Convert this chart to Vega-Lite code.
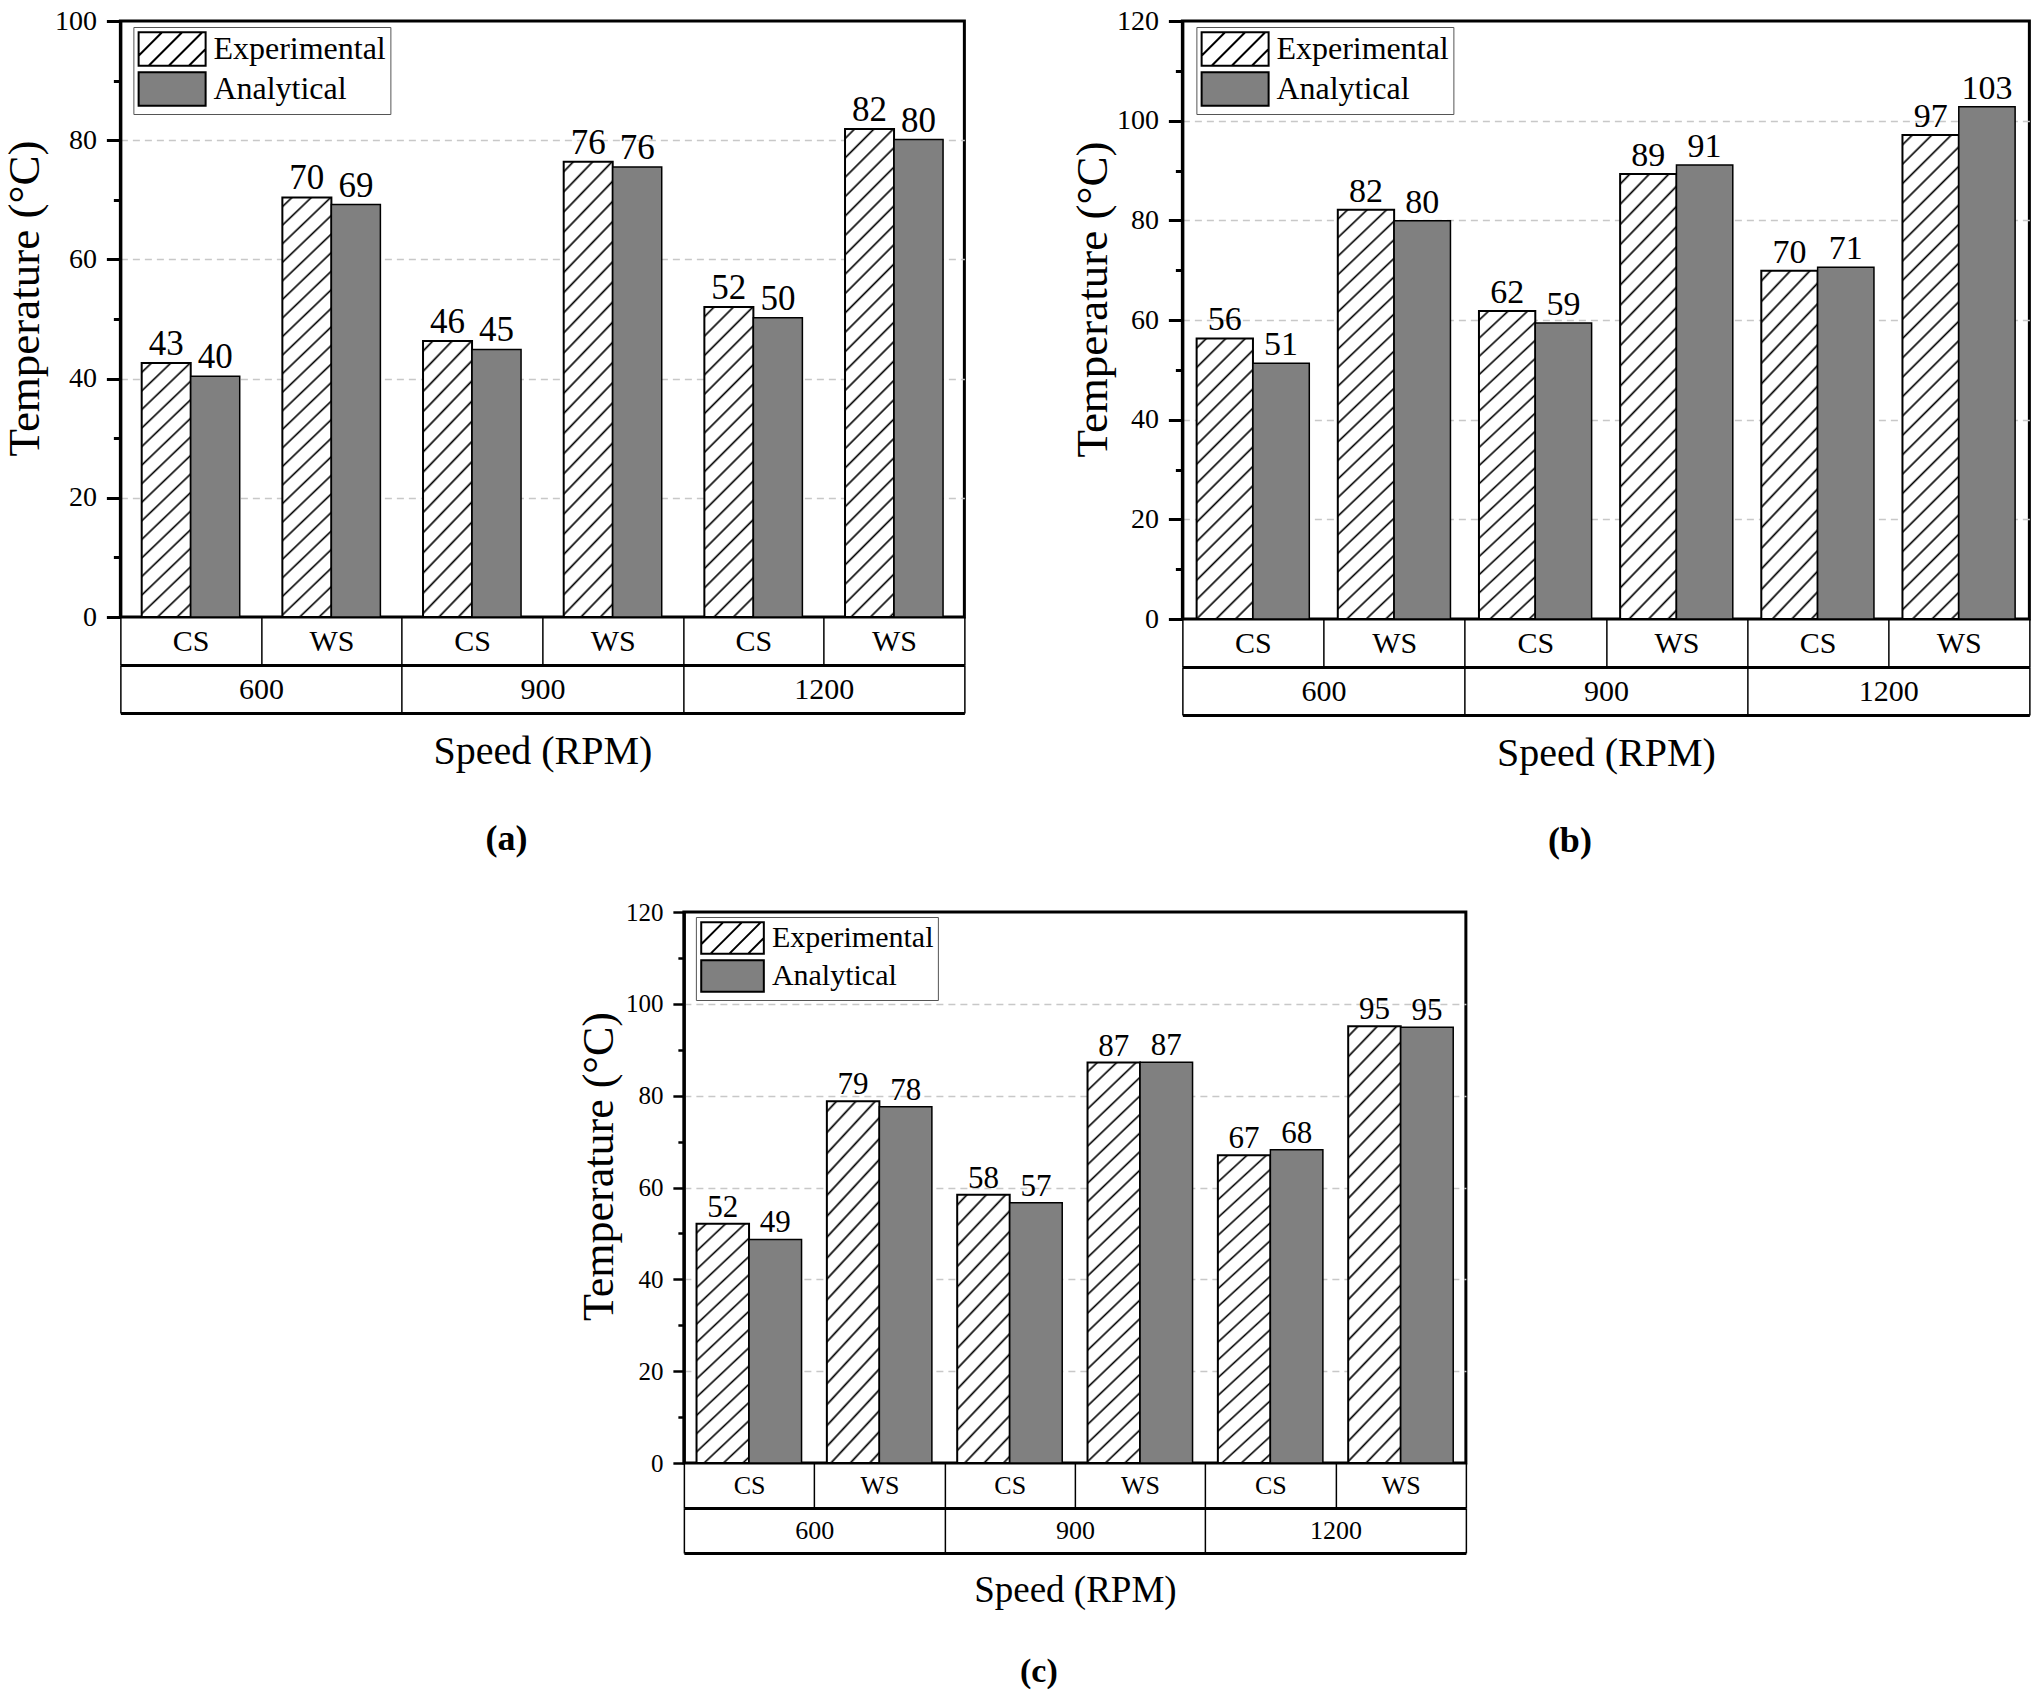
{
"$schema": "https://vega.github.io/schema/vega-lite/v6.json",
"padding": {"left": 0, "top": 5, "right": 0, "bottom": 0},
"background": "white",
"config": {
 "font": "Liberation Serif",
 "view": {"stroke": "black", "strokeWidth": 3},
 "axis": {"labelColor": "black", "titleColor": "black", "tickColor": "black", "domainColor": "black", "titleFontWeight": "normal", "labelFont": "Liberation Serif", "titleFont": "Liberation Serif"},
 "legend": {"labelFont": "Liberation Serif", "labelColor": "black"},
 "title": {"font": "Liberation Serif", "color": "black"},
 "text": {"font": "Liberation Serif"}
},
"vconcat": [
 {
  "hconcat": [
   {
    "width": 844, "height": 596,
    "data": {"values": [
     {"Speed":"600","Cat":"600 CS","S":"Experimental","T":42.6},
     {"Speed":"600","Cat":"600 CS","S":"Analytical","T":40.4},
     {"Speed":"600","Cat":"600 WS","S":"Experimental","T":70.4},
     {"Speed":"600","Cat":"600 WS","S":"Analytical","T":69.2},
     {"Speed":"900","Cat":"900 CS","S":"Experimental","T":46.3},
     {"Speed":"900","Cat":"900 CS","S":"Analytical","T":44.9},
     {"Speed":"900","Cat":"900 WS","S":"Experimental","T":76.4},
     {"Speed":"900","Cat":"900 WS","S":"Analytical","T":75.5},
     {"Speed":"1200","Cat":"1200 CS","S":"Experimental","T":52.0},
     {"Speed":"1200","Cat":"1200 CS","S":"Analytical","T":50.2},
     {"Speed":"1200","Cat":"1200 WS","S":"Experimental","T":81.9},
     {"Speed":"1200","Cat":"1200 WS","S":"Analytical","T":80.1}
    ]},
    "title": {"text": "(a)", "orient": "bottom", "frame": "group", "anchor": "middle", "dx": -36, "offset": 50, "fontSize": 36, "fontWeight": "bold"},
    "layer": [
     {
      "encoding": {
       "x": {"field": "Cat", "type": "nominal", "scale": {"domain": ["600 CS","600 WS","900 CS","900 WS","1200 CS","1200 WS"], "paddingInner": 0, "paddingOuter": 0},
             "axis": {"orient": "bottom", "offset": 48, "title": null, "tickBand": "extent", "tickSize": -48, "tickWidth": 1.5, "domainWidth": 3, "labelExpr": "split(datum.label, ' ')[1]", "labelFontSize": 30, "labelPadding": 24, "labelBaseline": "middle", "labelAngle": 0, "grid": false}},
       "xOffset": {"field": "S", "type": "nominal", "scale": {"domain": ["Experimental","Analytical"], "paddingInner": 0, "paddingOuter": 0.435}},
       "y": {"field": "T", "type": "quantitative", "scale": {"domain": [0,100], "nice": false},
             "axis": {"orient": "left", "values": [0,20,40,60,80,100], "tickSize": 14, "tickWidth": 3, "domainWidth": 3, "labelFontSize": 28, "labelPadding": 10, "grid": true, "gridDash": [7,5], "gridColor": "#c8c8c8", "gridWidth": 1.5, "gridOpacity": {"condition": {"test": "datum.value === 0 || datum.value === 100", "value": 0}, "value": 1}, "title": "Temperature (°C)", "titleFontSize": 45, "titlePadding": 7, "titleY": 277}}
      },
      "layer": [
       {"transform": [{"filter": "datum.S === 'Experimental' && indexof(['600 CS','900 CS'], datum.Cat) >= 0"}], "mark": {"type": "bar", "stroke": "black", "strokeWidth": 2, "fill": {"gradient": "linear", "x1": 0, "y1": 0, "x2": 0.5229, "y2": 2.8278, "stops": [
{"offset":0.0095,"color":"#fff"},{"offset":0.0125,"color":"#000"},{"offset":0.0155,"color":"#fff"},
{"offset":0.0345,"color":"#fff"},{"offset":0.0375,"color":"#000"},{"offset":0.0405,"color":"#fff"},
{"offset":0.0595,"color":"#fff"},{"offset":0.0625,"color":"#000"},{"offset":0.0655,"color":"#fff"},
{"offset":0.0845,"color":"#fff"},{"offset":0.0875,"color":"#000"},{"offset":0.0905,"color":"#fff"},
{"offset":0.1095,"color":"#fff"},{"offset":0.1125,"color":"#000"},{"offset":0.1155,"color":"#fff"},
{"offset":0.1345,"color":"#fff"},{"offset":0.1375,"color":"#000"},{"offset":0.1405,"color":"#fff"},
{"offset":0.1595,"color":"#fff"},{"offset":0.1625,"color":"#000"},{"offset":0.1655,"color":"#fff"},
{"offset":0.1845,"color":"#fff"},{"offset":0.1875,"color":"#000"},{"offset":0.1905,"color":"#fff"},
{"offset":0.2095,"color":"#fff"},{"offset":0.2125,"color":"#000"},{"offset":0.2155,"color":"#fff"},
{"offset":0.2345,"color":"#fff"},{"offset":0.2375,"color":"#000"},{"offset":0.2405,"color":"#fff"},
{"offset":0.2595,"color":"#fff"},{"offset":0.2625,"color":"#000"},{"offset":0.2655,"color":"#fff"},
{"offset":0.2845,"color":"#fff"},{"offset":0.2875,"color":"#000"},{"offset":0.2905,"color":"#fff"},
{"offset":0.3095,"color":"#fff"},{"offset":0.3125,"color":"#000"},{"offset":0.3155,"color":"#fff"},
{"offset":0.3345,"color":"#fff"},{"offset":0.3375,"color":"#000"},{"offset":0.3405,"color":"#fff"},
{"offset":0.3595,"color":"#fff"},{"offset":0.3625,"color":"#000"},{"offset":0.3655,"color":"#fff"},
{"offset":0.3845,"color":"#fff"},{"offset":0.3875,"color":"#000"},{"offset":0.3905,"color":"#fff"},
{"offset":0.4095,"color":"#fff"},{"offset":0.4125,"color":"#000"},{"offset":0.4155,"color":"#fff"},
{"offset":0.4345,"color":"#fff"},{"offset":0.4375,"color":"#000"},{"offset":0.4405,"color":"#fff"}
]}}},
       {"transform": [{"filter": "datum.S === 'Experimental' && indexof(['1200 CS'], datum.Cat) >= 0"}], "mark": {"type": "bar", "stroke": "black", "strokeWidth": 2, "fill": {"gradient": "linear", "x1": 0, "y1": 0, "x2": 0.3855, "y2": 2.4391, "stops": [
{"offset":0.0095,"color":"#fff"},{"offset":0.0125,"color":"#000"},{"offset":0.0155,"color":"#fff"},
{"offset":0.0345,"color":"#fff"},{"offset":0.0375,"color":"#000"},{"offset":0.0405,"color":"#fff"},
{"offset":0.0595,"color":"#fff"},{"offset":0.0625,"color":"#000"},{"offset":0.0655,"color":"#fff"},
{"offset":0.0845,"color":"#fff"},{"offset":0.0875,"color":"#000"},{"offset":0.0905,"color":"#fff"},
{"offset":0.1095,"color":"#fff"},{"offset":0.1125,"color":"#000"},{"offset":0.1155,"color":"#fff"},
{"offset":0.1345,"color":"#fff"},{"offset":0.1375,"color":"#000"},{"offset":0.1405,"color":"#fff"},
{"offset":0.1595,"color":"#fff"},{"offset":0.1625,"color":"#000"},{"offset":0.1655,"color":"#fff"},
{"offset":0.1845,"color":"#fff"},{"offset":0.1875,"color":"#000"},{"offset":0.1905,"color":"#fff"},
{"offset":0.2095,"color":"#fff"},{"offset":0.2125,"color":"#000"},{"offset":0.2155,"color":"#fff"},
{"offset":0.2345,"color":"#fff"},{"offset":0.2375,"color":"#000"},{"offset":0.2405,"color":"#fff"},
{"offset":0.2595,"color":"#fff"},{"offset":0.2625,"color":"#000"},{"offset":0.2655,"color":"#fff"},
{"offset":0.2845,"color":"#fff"},{"offset":0.2875,"color":"#000"},{"offset":0.2905,"color":"#fff"},
{"offset":0.3095,"color":"#fff"},{"offset":0.3125,"color":"#000"},{"offset":0.3155,"color":"#fff"},
{"offset":0.3345,"color":"#fff"},{"offset":0.3375,"color":"#000"},{"offset":0.3405,"color":"#fff"},
{"offset":0.3595,"color":"#fff"},{"offset":0.3625,"color":"#000"},{"offset":0.3655,"color":"#fff"},
{"offset":0.3845,"color":"#fff"},{"offset":0.3875,"color":"#000"},{"offset":0.3905,"color":"#fff"},
{"offset":0.4095,"color":"#fff"},{"offset":0.4125,"color":"#000"},{"offset":0.4155,"color":"#fff"},
{"offset":0.4345,"color":"#fff"},{"offset":0.4375,"color":"#000"},{"offset":0.4405,"color":"#fff"},
{"offset":0.4595,"color":"#fff"},{"offset":0.4625,"color":"#000"},{"offset":0.4655,"color":"#fff"},
{"offset":0.4845,"color":"#fff"},{"offset":0.4875,"color":"#000"},{"offset":0.4905,"color":"#fff"},
{"offset":0.5095,"color":"#fff"},{"offset":0.5125,"color":"#000"},{"offset":0.5155,"color":"#fff"}
]}}},
       {"transform": [{"filter": "datum.S === 'Experimental' && indexof(['600 WS','900 WS'], datum.Cat) >= 0"}], "mark": {"type": "bar", "stroke": "black", "strokeWidth": 2, "fill": {"gradient": "linear", "x1": 0, "y1": 0, "x2": 0.1955, "y2": 1.7475, "stops": [
{"offset":0.0095,"color":"#fff"},{"offset":0.0125,"color":"#000"},{"offset":0.0155,"color":"#fff"},
{"offset":0.0345,"color":"#fff"},{"offset":0.0375,"color":"#000"},{"offset":0.0405,"color":"#fff"},
{"offset":0.0595,"color":"#fff"},{"offset":0.0625,"color":"#000"},{"offset":0.0655,"color":"#fff"},
{"offset":0.0845,"color":"#fff"},{"offset":0.0875,"color":"#000"},{"offset":0.0905,"color":"#fff"},
{"offset":0.1095,"color":"#fff"},{"offset":0.1125,"color":"#000"},{"offset":0.1155,"color":"#fff"},
{"offset":0.1345,"color":"#fff"},{"offset":0.1375,"color":"#000"},{"offset":0.1405,"color":"#fff"},
{"offset":0.1595,"color":"#fff"},{"offset":0.1625,"color":"#000"},{"offset":0.1655,"color":"#fff"},
{"offset":0.1845,"color":"#fff"},{"offset":0.1875,"color":"#000"},{"offset":0.1905,"color":"#fff"},
{"offset":0.2095,"color":"#fff"},{"offset":0.2125,"color":"#000"},{"offset":0.2155,"color":"#fff"},
{"offset":0.2345,"color":"#fff"},{"offset":0.2375,"color":"#000"},{"offset":0.2405,"color":"#fff"},
{"offset":0.2595,"color":"#fff"},{"offset":0.2625,"color":"#000"},{"offset":0.2655,"color":"#fff"},
{"offset":0.2845,"color":"#fff"},{"offset":0.2875,"color":"#000"},{"offset":0.2905,"color":"#fff"},
{"offset":0.3095,"color":"#fff"},{"offset":0.3125,"color":"#000"},{"offset":0.3155,"color":"#fff"},
{"offset":0.3345,"color":"#fff"},{"offset":0.3375,"color":"#000"},{"offset":0.3405,"color":"#fff"},
{"offset":0.3595,"color":"#fff"},{"offset":0.3625,"color":"#000"},{"offset":0.3655,"color":"#fff"},
{"offset":0.3845,"color":"#fff"},{"offset":0.3875,"color":"#000"},{"offset":0.3905,"color":"#fff"},
{"offset":0.4095,"color":"#fff"},{"offset":0.4125,"color":"#000"},{"offset":0.4155,"color":"#fff"},
{"offset":0.4345,"color":"#fff"},{"offset":0.4375,"color":"#000"},{"offset":0.4405,"color":"#fff"},
{"offset":0.4595,"color":"#fff"},{"offset":0.4625,"color":"#000"},{"offset":0.4655,"color":"#fff"},
{"offset":0.4845,"color":"#fff"},{"offset":0.4875,"color":"#000"},{"offset":0.4905,"color":"#fff"},
{"offset":0.5095,"color":"#fff"},{"offset":0.5125,"color":"#000"},{"offset":0.5155,"color":"#fff"},
{"offset":0.5345,"color":"#fff"},{"offset":0.5375,"color":"#000"},{"offset":0.5405,"color":"#fff"},
{"offset":0.5595,"color":"#fff"},{"offset":0.5625,"color":"#000"},{"offset":0.5655,"color":"#fff"},
{"offset":0.5845,"color":"#fff"},{"offset":0.5875,"color":"#000"},{"offset":0.5905,"color":"#fff"},
{"offset":0.6095,"color":"#fff"},{"offset":0.6125,"color":"#000"},{"offset":0.6155,"color":"#fff"},
{"offset":0.6345,"color":"#fff"},{"offset":0.6375,"color":"#000"},{"offset":0.6405,"color":"#fff"}
]}}},
       {"transform": [{"filter": "datum.S === 'Experimental' && indexof(['1200 WS'], datum.Cat) >= 0"}], "mark": {"type": "bar", "stroke": "black", "strokeWidth": 2, "fill": {"gradient": "linear", "x1": 0, "y1": 0, "x2": 0.1579, "y2": 1.5723, "stops": [
{"offset":0.0095,"color":"#fff"},{"offset":0.0125,"color":"#000"},{"offset":0.0155,"color":"#fff"},
{"offset":0.0345,"color":"#fff"},{"offset":0.0375,"color":"#000"},{"offset":0.0405,"color":"#fff"},
{"offset":0.0595,"color":"#fff"},{"offset":0.0625,"color":"#000"},{"offset":0.0655,"color":"#fff"},
{"offset":0.0845,"color":"#fff"},{"offset":0.0875,"color":"#000"},{"offset":0.0905,"color":"#fff"},
{"offset":0.1095,"color":"#fff"},{"offset":0.1125,"color":"#000"},{"offset":0.1155,"color":"#fff"},
{"offset":0.1345,"color":"#fff"},{"offset":0.1375,"color":"#000"},{"offset":0.1405,"color":"#fff"},
{"offset":0.1595,"color":"#fff"},{"offset":0.1625,"color":"#000"},{"offset":0.1655,"color":"#fff"},
{"offset":0.1845,"color":"#fff"},{"offset":0.1875,"color":"#000"},{"offset":0.1905,"color":"#fff"},
{"offset":0.2095,"color":"#fff"},{"offset":0.2125,"color":"#000"},{"offset":0.2155,"color":"#fff"},
{"offset":0.2345,"color":"#fff"},{"offset":0.2375,"color":"#000"},{"offset":0.2405,"color":"#fff"},
{"offset":0.2595,"color":"#fff"},{"offset":0.2625,"color":"#000"},{"offset":0.2655,"color":"#fff"},
{"offset":0.2845,"color":"#fff"},{"offset":0.2875,"color":"#000"},{"offset":0.2905,"color":"#fff"},
{"offset":0.3095,"color":"#fff"},{"offset":0.3125,"color":"#000"},{"offset":0.3155,"color":"#fff"},
{"offset":0.3345,"color":"#fff"},{"offset":0.3375,"color":"#000"},{"offset":0.3405,"color":"#fff"},
{"offset":0.3595,"color":"#fff"},{"offset":0.3625,"color":"#000"},{"offset":0.3655,"color":"#fff"},
{"offset":0.3845,"color":"#fff"},{"offset":0.3875,"color":"#000"},{"offset":0.3905,"color":"#fff"},
{"offset":0.4095,"color":"#fff"},{"offset":0.4125,"color":"#000"},{"offset":0.4155,"color":"#fff"},
{"offset":0.4345,"color":"#fff"},{"offset":0.4375,"color":"#000"},{"offset":0.4405,"color":"#fff"},
{"offset":0.4595,"color":"#fff"},{"offset":0.4625,"color":"#000"},{"offset":0.4655,"color":"#fff"},
{"offset":0.4845,"color":"#fff"},{"offset":0.4875,"color":"#000"},{"offset":0.4905,"color":"#fff"},
{"offset":0.5095,"color":"#fff"},{"offset":0.5125,"color":"#000"},{"offset":0.5155,"color":"#fff"},
{"offset":0.5345,"color":"#fff"},{"offset":0.5375,"color":"#000"},{"offset":0.5405,"color":"#fff"},
{"offset":0.5595,"color":"#fff"},{"offset":0.5625,"color":"#000"},{"offset":0.5655,"color":"#fff"},
{"offset":0.5845,"color":"#fff"},{"offset":0.5875,"color":"#000"},{"offset":0.5905,"color":"#fff"},
{"offset":0.6095,"color":"#fff"},{"offset":0.6125,"color":"#000"},{"offset":0.6155,"color":"#fff"},
{"offset":0.6345,"color":"#fff"},{"offset":0.6375,"color":"#000"},{"offset":0.6405,"color":"#fff"},
{"offset":0.6595,"color":"#fff"},{"offset":0.6625,"color":"#000"},{"offset":0.6655,"color":"#fff"},
{"offset":0.6845,"color":"#fff"},{"offset":0.6875,"color":"#000"},{"offset":0.6905,"color":"#fff"},
{"offset":0.7095,"color":"#fff"},{"offset":0.7125,"color":"#000"},{"offset":0.7155,"color":"#fff"}
]}}},
       {"transform": [{"filter": "datum.S === 'Analytical'"}], "mark": {"type": "bar", "stroke": "black", "strokeWidth": 1.5},
        "encoding": {"fill": {"field": "S", "type": "nominal", "scale": {"domain": ["Experimental","Analytical"], "range": ["#ffffff","#808080"]},
          "legend": {"title": null, "orient": "none", "legendX": 13, "legendY": 6, "direction": "vertical", "symbolType": "M-1,-1H3V1H-1Z", "symbolSize": 1122, "symbolStrokeColor": "black", "symbolStrokeWidth": 2, "symbolOpacity": 1, "labelFontSize": 32, "labelOffset": 40, "labelLimit": 400, "rowPadding": -2, "padding": 4, "strokeColor": "#555", "fillColor": "white",
            "encoding": {"symbols": {"stroke": {"value": "black"}, "strokeWidth": {"value": 2}, "shape": {"condition": {"test": "datum.value === 'Experimental'", "value": "M-1,-1H3V1H-1Z M-1,0.4L0.4,-1 M-0.4,1L1.6,-1 M0.8,1L2.8,-1 M2,1L3,0"}, "value": "M-1,-1H3V1H-1Z"}}}}}}},
       {"mark": {"type": "text", "fontSize": 35, "dy": -8, "baseline": "alphabetic", "color": "black"}, "encoding": {"text": {"field": "T", "type": "quantitative", "format": ".0f"}}}
      ]
     },
     {"mark": {"type": "point", "opacity": 0}, "encoding": {"y": {"field": "T", "type": "quantitative", "scale": {"domain": [0,100], "nice": false}, "axis": {"orient": "left", "values": [10,30,50,70,90], "tickSize": 7, "tickWidth": 3, "labels": false, "domain": false, "grid": false, "title": null}}}},
     {"mark": {"type": "point", "opacity": 0}, "encoding": {"x": {"field": "Speed", "type": "nominal", "scale": {"domain": ["600","900","1200"], "paddingInner": 0, "paddingOuter": 0}, "axis": {"orient": "bottom", "offset": 96, "title": "Speed (RPM)", "titleFontSize": 40, "titlePadding": 18, "tickBand": "extent", "tickSize": -48, "tickWidth": 1.5, "domainWidth": 3, "labelFontSize": 30, "labelPadding": 24, "labelBaseline": "middle", "labelAngle": 0, "grid": false}}}}
    ],
    "resolve": {"scale": {"x": "independent"}, "axis": {"x": "independent", "y": "independent"}}
   },
   {
    "width": 847, "height": 598,
    "data": {"values": [
     {"Speed":"600","Cat":"600 CS","S":"Experimental","T":56.3},
     {"Speed":"600","Cat":"600 CS","S":"Analytical","T":51.3},
     {"Speed":"600","Cat":"600 WS","S":"Experimental","T":82.1},
     {"Speed":"600","Cat":"600 WS","S":"Analytical","T":79.9},
     {"Speed":"900","Cat":"900 CS","S":"Experimental","T":61.8},
     {"Speed":"900","Cat":"900 CS","S":"Analytical","T":59.4},
     {"Speed":"900","Cat":"900 WS","S":"Experimental","T":89.3},
     {"Speed":"900","Cat":"900 WS","S":"Analytical","T":91.1},
     {"Speed":"1200","Cat":"1200 CS","S":"Experimental","T":69.9},
     {"Speed":"1200","Cat":"1200 CS","S":"Analytical","T":70.6},
     {"Speed":"1200","Cat":"1200 WS","S":"Experimental","T":97.1},
     {"Speed":"1200","Cat":"1200 WS","S":"Analytical","T":102.8}
    ]},
    "title": {"text": "(b)", "orient": "bottom", "frame": "group", "anchor": "middle", "dx": -36, "offset": 50, "fontSize": 36, "fontWeight": "bold"},
    "layer": [
     {
      "encoding": {
       "x": {"field": "Cat", "type": "nominal", "scale": {"domain": ["600 CS","600 WS","900 CS","900 WS","1200 CS","1200 WS"], "paddingInner": 0, "paddingOuter": 0},
             "axis": {"orient": "bottom", "offset": 48, "title": null, "tickBand": "extent", "tickSize": -48, "tickWidth": 1.5, "domainWidth": 3, "labelExpr": "split(datum.label, ' ')[1]", "labelFontSize": 30, "labelPadding": 24, "labelBaseline": "middle", "labelAngle": 0, "grid": false}},
       "xOffset": {"field": "S", "type": "nominal", "scale": {"domain": ["Experimental","Analytical"], "paddingInner": 0, "paddingOuter": 0.253}},
       "y": {"field": "T", "type": "quantitative", "scale": {"domain": [0,120], "nice": false},
             "axis": {"orient": "left", "values": [0,20,40,60,80,100,120], "tickSize": 14, "tickWidth": 3, "domainWidth": 3, "labelFontSize": 28, "labelPadding": 10, "grid": true, "gridDash": [7,5], "gridColor": "#c8c8c8", "gridWidth": 1.5, "gridOpacity": {"condition": {"test": "datum.value === 0 || datum.value === 120", "value": 0}, "value": 1}, "title": "Temperature (°C)", "titleFontSize": 45, "titlePadding": 1, "titleY": 278}}
      },
      "layer": [
       {"transform": [{"filter": "datum.S === 'Experimental' && indexof(['600 CS'], datum.Cat) >= 0"}], "mark": {"type": "bar", "stroke": "black", "strokeWidth": 2, "fill": {"gradient": "linear", "x1": 0, "y1": 0, "x2": 0.5286, "y2": 2.6527, "stops": [
{"offset":0.0095,"color":"#fff"},{"offset":0.0125,"color":"#000"},{"offset":0.0155,"color":"#fff"},
{"offset":0.0345,"color":"#fff"},{"offset":0.0375,"color":"#000"},{"offset":0.0405,"color":"#fff"},
{"offset":0.0595,"color":"#fff"},{"offset":0.0625,"color":"#000"},{"offset":0.0655,"color":"#fff"},
{"offset":0.0845,"color":"#fff"},{"offset":0.0875,"color":"#000"},{"offset":0.0905,"color":"#fff"},
{"offset":0.1095,"color":"#fff"},{"offset":0.1125,"color":"#000"},{"offset":0.1155,"color":"#fff"},
{"offset":0.1345,"color":"#fff"},{"offset":0.1375,"color":"#000"},{"offset":0.1405,"color":"#fff"},
{"offset":0.1595,"color":"#fff"},{"offset":0.1625,"color":"#000"},{"offset":0.1655,"color":"#fff"},
{"offset":0.1845,"color":"#fff"},{"offset":0.1875,"color":"#000"},{"offset":0.1905,"color":"#fff"},
{"offset":0.2095,"color":"#fff"},{"offset":0.2125,"color":"#000"},{"offset":0.2155,"color":"#fff"},
{"offset":0.2345,"color":"#fff"},{"offset":0.2375,"color":"#000"},{"offset":0.2405,"color":"#fff"},
{"offset":0.2595,"color":"#fff"},{"offset":0.2625,"color":"#000"},{"offset":0.2655,"color":"#fff"},
{"offset":0.2845,"color":"#fff"},{"offset":0.2875,"color":"#000"},{"offset":0.2905,"color":"#fff"},
{"offset":0.3095,"color":"#fff"},{"offset":0.3125,"color":"#000"},{"offset":0.3155,"color":"#fff"},
{"offset":0.3345,"color":"#fff"},{"offset":0.3375,"color":"#000"},{"offset":0.3405,"color":"#fff"},
{"offset":0.3595,"color":"#fff"},{"offset":0.3625,"color":"#000"},{"offset":0.3655,"color":"#fff"},
{"offset":0.3845,"color":"#fff"},{"offset":0.3875,"color":"#000"},{"offset":0.3905,"color":"#fff"},
{"offset":0.4095,"color":"#fff"},{"offset":0.4125,"color":"#000"},{"offset":0.4155,"color":"#fff"},
{"offset":0.4345,"color":"#fff"},{"offset":0.4375,"color":"#000"},{"offset":0.4405,"color":"#fff"}
]}}},
       {"transform": [{"filter": "datum.S === 'Experimental' && indexof(['900 CS','1200 CS'], datum.Cat) >= 0"}], "mark": {"type": "bar", "stroke": "black", "strokeWidth": 2, "fill": {"gradient": "linear", "x1": 0, "y1": 0, "x2": 0.3920, "y2": 2.2959, "stops": [
{"offset":0.0095,"color":"#fff"},{"offset":0.0125,"color":"#000"},{"offset":0.0155,"color":"#fff"},
{"offset":0.0345,"color":"#fff"},{"offset":0.0375,"color":"#000"},{"offset":0.0405,"color":"#fff"},
{"offset":0.0595,"color":"#fff"},{"offset":0.0625,"color":"#000"},{"offset":0.0655,"color":"#fff"},
{"offset":0.0845,"color":"#fff"},{"offset":0.0875,"color":"#000"},{"offset":0.0905,"color":"#fff"},
{"offset":0.1095,"color":"#fff"},{"offset":0.1125,"color":"#000"},{"offset":0.1155,"color":"#fff"},
{"offset":0.1345,"color":"#fff"},{"offset":0.1375,"color":"#000"},{"offset":0.1405,"color":"#fff"},
{"offset":0.1595,"color":"#fff"},{"offset":0.1625,"color":"#000"},{"offset":0.1655,"color":"#fff"},
{"offset":0.1845,"color":"#fff"},{"offset":0.1875,"color":"#000"},{"offset":0.1905,"color":"#fff"},
{"offset":0.2095,"color":"#fff"},{"offset":0.2125,"color":"#000"},{"offset":0.2155,"color":"#fff"},
{"offset":0.2345,"color":"#fff"},{"offset":0.2375,"color":"#000"},{"offset":0.2405,"color":"#fff"},
{"offset":0.2595,"color":"#fff"},{"offset":0.2625,"color":"#000"},{"offset":0.2655,"color":"#fff"},
{"offset":0.2845,"color":"#fff"},{"offset":0.2875,"color":"#000"},{"offset":0.2905,"color":"#fff"},
{"offset":0.3095,"color":"#fff"},{"offset":0.3125,"color":"#000"},{"offset":0.3155,"color":"#fff"},
{"offset":0.3345,"color":"#fff"},{"offset":0.3375,"color":"#000"},{"offset":0.3405,"color":"#fff"},
{"offset":0.3595,"color":"#fff"},{"offset":0.3625,"color":"#000"},{"offset":0.3655,"color":"#fff"},
{"offset":0.3845,"color":"#fff"},{"offset":0.3875,"color":"#000"},{"offset":0.3905,"color":"#fff"},
{"offset":0.4095,"color":"#fff"},{"offset":0.4125,"color":"#000"},{"offset":0.4155,"color":"#fff"},
{"offset":0.4345,"color":"#fff"},{"offset":0.4375,"color":"#000"},{"offset":0.4405,"color":"#fff"},
{"offset":0.4595,"color":"#fff"},{"offset":0.4625,"color":"#000"},{"offset":0.4655,"color":"#fff"},
{"offset":0.4845,"color":"#fff"},{"offset":0.4875,"color":"#000"},{"offset":0.4905,"color":"#fff"},
{"offset":0.5095,"color":"#fff"},{"offset":0.5125,"color":"#000"},{"offset":0.5155,"color":"#fff"}
]}}},
       {"transform": [{"filter": "datum.S === 'Experimental' && indexof(['600 WS','900 WS'], datum.Cat) >= 0"}], "mark": {"type": "bar", "stroke": "black", "strokeWidth": 2, "fill": {"gradient": "linear", "x1": 0, "y1": 0, "x2": 0.2340, "y2": 1.7843, "stops": [
{"offset":0.0095,"color":"#fff"},{"offset":0.0125,"color":"#000"},{"offset":0.0155,"color":"#fff"},
{"offset":0.0345,"color":"#fff"},{"offset":0.0375,"color":"#000"},{"offset":0.0405,"color":"#fff"},
{"offset":0.0595,"color":"#fff"},{"offset":0.0625,"color":"#000"},{"offset":0.0655,"color":"#fff"},
{"offset":0.0845,"color":"#fff"},{"offset":0.0875,"color":"#000"},{"offset":0.0905,"color":"#fff"},
{"offset":0.1095,"color":"#fff"},{"offset":0.1125,"color":"#000"},{"offset":0.1155,"color":"#fff"},
{"offset":0.1345,"color":"#fff"},{"offset":0.1375,"color":"#000"},{"offset":0.1405,"color":"#fff"},
{"offset":0.1595,"color":"#fff"},{"offset":0.1625,"color":"#000"},{"offset":0.1655,"color":"#fff"},
{"offset":0.1845,"color":"#fff"},{"offset":0.1875,"color":"#000"},{"offset":0.1905,"color":"#fff"},
{"offset":0.2095,"color":"#fff"},{"offset":0.2125,"color":"#000"},{"offset":0.2155,"color":"#fff"},
{"offset":0.2345,"color":"#fff"},{"offset":0.2375,"color":"#000"},{"offset":0.2405,"color":"#fff"},
{"offset":0.2595,"color":"#fff"},{"offset":0.2625,"color":"#000"},{"offset":0.2655,"color":"#fff"},
{"offset":0.2845,"color":"#fff"},{"offset":0.2875,"color":"#000"},{"offset":0.2905,"color":"#fff"},
{"offset":0.3095,"color":"#fff"},{"offset":0.3125,"color":"#000"},{"offset":0.3155,"color":"#fff"},
{"offset":0.3345,"color":"#fff"},{"offset":0.3375,"color":"#000"},{"offset":0.3405,"color":"#fff"},
{"offset":0.3595,"color":"#fff"},{"offset":0.3625,"color":"#000"},{"offset":0.3655,"color":"#fff"},
{"offset":0.3845,"color":"#fff"},{"offset":0.3875,"color":"#000"},{"offset":0.3905,"color":"#fff"},
{"offset":0.4095,"color":"#fff"},{"offset":0.4125,"color":"#000"},{"offset":0.4155,"color":"#fff"},
{"offset":0.4345,"color":"#fff"},{"offset":0.4375,"color":"#000"},{"offset":0.4405,"color":"#fff"},
{"offset":0.4595,"color":"#fff"},{"offset":0.4625,"color":"#000"},{"offset":0.4655,"color":"#fff"},
{"offset":0.4845,"color":"#fff"},{"offset":0.4875,"color":"#000"},{"offset":0.4905,"color":"#fff"},
{"offset":0.5095,"color":"#fff"},{"offset":0.5125,"color":"#000"},{"offset":0.5155,"color":"#fff"},
{"offset":0.5345,"color":"#fff"},{"offset":0.5375,"color":"#000"},{"offset":0.5405,"color":"#fff"},
{"offset":0.5595,"color":"#fff"},{"offset":0.5625,"color":"#000"},{"offset":0.5655,"color":"#fff"},
{"offset":0.5845,"color":"#fff"},{"offset":0.5875,"color":"#000"},{"offset":0.5905,"color":"#fff"},
{"offset":0.6095,"color":"#fff"},{"offset":0.6125,"color":"#000"},{"offset":0.6155,"color":"#fff"},
{"offset":0.6345,"color":"#fff"},{"offset":0.6375,"color":"#000"},{"offset":0.6405,"color":"#fff"}
]}}},
       {"transform": [{"filter": "datum.S === 'Experimental' && indexof(['1200 WS'], datum.Cat) >= 0"}], "mark": {"type": "bar", "stroke": "black", "strokeWidth": 2, "fill": {"gradient": "linear", "x1": 0, "y1": 0, "x2": 0.1828, "y2": 1.5801, "stops": [
{"offset":0.0095,"color":"#fff"},{"offset":0.0125,"color":"#000"},{"offset":0.0155,"color":"#fff"},
{"offset":0.0345,"color":"#fff"},{"offset":0.0375,"color":"#000"},{"offset":0.0405,"color":"#fff"},
{"offset":0.0595,"color":"#fff"},{"offset":0.0625,"color":"#000"},{"offset":0.0655,"color":"#fff"},
{"offset":0.0845,"color":"#fff"},{"offset":0.0875,"color":"#000"},{"offset":0.0905,"color":"#fff"},
{"offset":0.1095,"color":"#fff"},{"offset":0.1125,"color":"#000"},{"offset":0.1155,"color":"#fff"},
{"offset":0.1345,"color":"#fff"},{"offset":0.1375,"color":"#000"},{"offset":0.1405,"color":"#fff"},
{"offset":0.1595,"color":"#fff"},{"offset":0.1625,"color":"#000"},{"offset":0.1655,"color":"#fff"},
{"offset":0.1845,"color":"#fff"},{"offset":0.1875,"color":"#000"},{"offset":0.1905,"color":"#fff"},
{"offset":0.2095,"color":"#fff"},{"offset":0.2125,"color":"#000"},{"offset":0.2155,"color":"#fff"},
{"offset":0.2345,"color":"#fff"},{"offset":0.2375,"color":"#000"},{"offset":0.2405,"color":"#fff"},
{"offset":0.2595,"color":"#fff"},{"offset":0.2625,"color":"#000"},{"offset":0.2655,"color":"#fff"},
{"offset":0.2845,"color":"#fff"},{"offset":0.2875,"color":"#000"},{"offset":0.2905,"color":"#fff"},
{"offset":0.3095,"color":"#fff"},{"offset":0.3125,"color":"#000"},{"offset":0.3155,"color":"#fff"},
{"offset":0.3345,"color":"#fff"},{"offset":0.3375,"color":"#000"},{"offset":0.3405,"color":"#fff"},
{"offset":0.3595,"color":"#fff"},{"offset":0.3625,"color":"#000"},{"offset":0.3655,"color":"#fff"},
{"offset":0.3845,"color":"#fff"},{"offset":0.3875,"color":"#000"},{"offset":0.3905,"color":"#fff"},
{"offset":0.4095,"color":"#fff"},{"offset":0.4125,"color":"#000"},{"offset":0.4155,"color":"#fff"},
{"offset":0.4345,"color":"#fff"},{"offset":0.4375,"color":"#000"},{"offset":0.4405,"color":"#fff"},
{"offset":0.4595,"color":"#fff"},{"offset":0.4625,"color":"#000"},{"offset":0.4655,"color":"#fff"},
{"offset":0.4845,"color":"#fff"},{"offset":0.4875,"color":"#000"},{"offset":0.4905,"color":"#fff"},
{"offset":0.5095,"color":"#fff"},{"offset":0.5125,"color":"#000"},{"offset":0.5155,"color":"#fff"},
{"offset":0.5345,"color":"#fff"},{"offset":0.5375,"color":"#000"},{"offset":0.5405,"color":"#fff"},
{"offset":0.5595,"color":"#fff"},{"offset":0.5625,"color":"#000"},{"offset":0.5655,"color":"#fff"},
{"offset":0.5845,"color":"#fff"},{"offset":0.5875,"color":"#000"},{"offset":0.5905,"color":"#fff"},
{"offset":0.6095,"color":"#fff"},{"offset":0.6125,"color":"#000"},{"offset":0.6155,"color":"#fff"},
{"offset":0.6345,"color":"#fff"},{"offset":0.6375,"color":"#000"},{"offset":0.6405,"color":"#fff"},
{"offset":0.6595,"color":"#fff"},{"offset":0.6625,"color":"#000"},{"offset":0.6655,"color":"#fff"},
{"offset":0.6845,"color":"#fff"},{"offset":0.6875,"color":"#000"},{"offset":0.6905,"color":"#fff"},
{"offset":0.7095,"color":"#fff"},{"offset":0.7125,"color":"#000"},{"offset":0.7155,"color":"#fff"}
]}}},
       {"transform": [{"filter": "datum.S === 'Analytical'"}], "mark": {"type": "bar", "stroke": "black", "strokeWidth": 1.5},
        "encoding": {"fill": {"field": "S", "type": "nominal", "scale": {"domain": ["Experimental","Analytical"], "range": ["#ffffff","#808080"]},
          "legend": {"title": null, "orient": "none", "legendX": 14, "legendY": 6, "direction": "vertical", "symbolType": "M-1,-1H3V1H-1Z", "symbolSize": 1122, "symbolStrokeColor": "black", "symbolStrokeWidth": 2, "symbolOpacity": 1, "labelFontSize": 32, "labelOffset": 40, "labelLimit": 400, "rowPadding": -2, "padding": 4, "strokeColor": "#555", "fillColor": "white",
            "encoding": {"symbols": {"stroke": {"value": "black"}, "strokeWidth": {"value": 2}, "shape": {"condition": {"test": "datum.value === 'Experimental'", "value": "M-1,-1H3V1H-1Z M-1,0.4L0.4,-1 M-0.4,1L1.6,-1 M0.8,1L2.8,-1 M2,1L3,0"}, "value": "M-1,-1H3V1H-1Z"}}}}}}},
       {"mark": {"type": "text", "fontSize": 34, "dy": -8, "baseline": "alphabetic", "color": "black"}, "encoding": {"text": {"field": "T", "type": "quantitative", "format": ".0f"}}}
      ]
     },
     {"mark": {"type": "point", "opacity": 0}, "encoding": {"y": {"field": "T", "type": "quantitative", "scale": {"domain": [0,120], "nice": false}, "axis": {"orient": "left", "values": [10,30,50,70,90,110], "tickSize": 7, "tickWidth": 3, "labels": false, "domain": false, "grid": false, "title": null}}}},
     {"mark": {"type": "point", "opacity": 0}, "encoding": {"x": {"field": "Speed", "type": "nominal", "scale": {"domain": ["600","900","1200"], "paddingInner": 0, "paddingOuter": 0}, "axis": {"orient": "bottom", "offset": 96, "title": "Speed (RPM)", "titleFontSize": 40, "titlePadding": 18, "tickBand": "extent", "tickSize": -48, "tickWidth": 1.5, "domainWidth": 3, "labelFontSize": 30, "labelPadding": 24, "labelBaseline": "middle", "labelAngle": 0, "grid": false}}}}
    ],
    "resolve": {"scale": {"x": "independent"}, "axis": {"x": "independent", "y": "independent"}}
   }
  ],
  "spacing": 101,
  "resolve": {"scale": {"x": "independent", "y": "independent", "xOffset": "independent", "fill": "independent"}, "legend": {"fill": "independent"}}
 },
 {
  "width": 782, "height": 551,
  "data": {"values": [
   {"Speed":"600","Cat":"600 CS","S":"Experimental","T":52.1},
   {"Speed":"600","Cat":"600 CS","S":"Analytical","T":48.7},
   {"Speed":"600","Cat":"600 WS","S":"Experimental","T":78.8},
   {"Speed":"600","Cat":"600 WS","S":"Analytical","T":77.6},
   {"Speed":"900","Cat":"900 CS","S":"Experimental","T":58.4},
   {"Speed":"900","Cat":"900 CS","S":"Analytical","T":56.7},
   {"Speed":"900","Cat":"900 WS","S":"Experimental","T":87.2},
   {"Speed":"900","Cat":"900 WS","S":"Analytical","T":87.3},
   {"Speed":"1200","Cat":"1200 CS","S":"Experimental","T":67.0},
   {"Speed":"1200","Cat":"1200 CS","S":"Analytical","T":68.2},
   {"Speed":"1200","Cat":"1200 WS","S":"Experimental","T":95.1},
   {"Speed":"1200","Cat":"1200 WS","S":"Analytical","T":94.9}
  ]},
  "title": {"text": "(c)", "orient": "bottom", "frame": "group", "anchor": "middle", "dx": -36, "offset": 46, "fontSize": 34, "fontWeight": "bold"},
  "layer": [
   {
    "encoding": {
     "x": {"field": "Cat", "type": "nominal", "scale": {"domain": ["600 CS","600 WS","900 CS","900 WS","1200 CS","1200 WS"], "paddingInner": 0, "paddingOuter": 0},
           "axis": {"orient": "bottom", "offset": 45, "title": null, "tickBand": "extent", "tickSize": -45, "tickWidth": 1.5, "domainWidth": 3, "labelExpr": "split(datum.label, ' ')[1]", "labelFontSize": 26, "labelPadding": 22.5, "labelBaseline": "middle", "labelAngle": 0, "grid": false}},
     "xOffset": {"field": "S", "type": "nominal", "scale": {"domain": ["Experimental","Analytical"], "paddingInner": 0, "paddingOuter": 0.241}},
     "y": {"field": "T", "type": "quantitative", "scale": {"domain": [0,120], "nice": false},
           "axis": {"orient": "left", "values": [0,20,40,60,80,100,120], "tickSize": 11, "tickWidth": 2.5, "domainWidth": 3, "labelFontSize": 25, "labelPadding": 10, "grid": true, "gridDash": [7,5], "gridColor": "#c8c8c8", "gridWidth": 1.5, "gridOpacity": {"condition": {"test": "datum.value === 0 || datum.value === 120", "value": 0}, "value": 1}, "title": "Temperature (°C)", "titleFontSize": 44, "titlePadding": 4, "titleY": 254}}
    },
    "layer": [
     {"transform": [{"filter": "datum.S === 'Experimental' && indexof(['600 CS','900 CS'], datum.Cat) >= 0"}], "mark": {"type": "bar", "stroke": "black", "strokeWidth": 2, "fill": {"gradient": "linear", "x1": 0, "y1": 0, "x2": 0.6048, "y2": 2.9261, "stops": [
{"offset":0.0095,"color":"#fff"},{"offset":0.0125,"color":"#000"},{"offset":0.0155,"color":"#fff"},
{"offset":0.0345,"color":"#fff"},{"offset":0.0375,"color":"#000"},{"offset":0.0405,"color":"#fff"},
{"offset":0.0595,"color":"#fff"},{"offset":0.0625,"color":"#000"},{"offset":0.0655,"color":"#fff"},
{"offset":0.0845,"color":"#fff"},{"offset":0.0875,"color":"#000"},{"offset":0.0905,"color":"#fff"},
{"offset":0.1095,"color":"#fff"},{"offset":0.1125,"color":"#000"},{"offset":0.1155,"color":"#fff"},
{"offset":0.1345,"color":"#fff"},{"offset":0.1375,"color":"#000"},{"offset":0.1405,"color":"#fff"},
{"offset":0.1595,"color":"#fff"},{"offset":0.1625,"color":"#000"},{"offset":0.1655,"color":"#fff"},
{"offset":0.1845,"color":"#fff"},{"offset":0.1875,"color":"#000"},{"offset":0.1905,"color":"#fff"},
{"offset":0.2095,"color":"#fff"},{"offset":0.2125,"color":"#000"},{"offset":0.2155,"color":"#fff"},
{"offset":0.2345,"color":"#fff"},{"offset":0.2375,"color":"#000"},{"offset":0.2405,"color":"#fff"},
{"offset":0.2595,"color":"#fff"},{"offset":0.2625,"color":"#000"},{"offset":0.2655,"color":"#fff"},
{"offset":0.2845,"color":"#fff"},{"offset":0.2875,"color":"#000"},{"offset":0.2905,"color":"#fff"},
{"offset":0.3095,"color":"#fff"},{"offset":0.3125,"color":"#000"},{"offset":0.3155,"color":"#fff"},
{"offset":0.3345,"color":"#fff"},{"offset":0.3375,"color":"#000"},{"offset":0.3405,"color":"#fff"},
{"offset":0.3595,"color":"#fff"},{"offset":0.3625,"color":"#000"},{"offset":0.3655,"color":"#fff"},
{"offset":0.3845,"color":"#fff"},{"offset":0.3875,"color":"#000"},{"offset":0.3905,"color":"#fff"},
{"offset":0.4095,"color":"#fff"},{"offset":0.4125,"color":"#000"},{"offset":0.4155,"color":"#fff"}
]}}},
     {"transform": [{"filter": "datum.S === 'Experimental' && indexof(['600 WS','1200 CS'], datum.Cat) >= 0"}], "mark": {"type": "bar", "stroke": "black", "strokeWidth": 2, "fill": {"gradient": "linear", "x1": 0, "y1": 0, "x2": 0.3539, "y2": 2.2580, "stops": [
{"offset":0.0095,"color":"#fff"},{"offset":0.0125,"color":"#000"},{"offset":0.0155,"color":"#fff"},
{"offset":0.0345,"color":"#fff"},{"offset":0.0375,"color":"#000"},{"offset":0.0405,"color":"#fff"},
{"offset":0.0595,"color":"#fff"},{"offset":0.0625,"color":"#000"},{"offset":0.0655,"color":"#fff"},
{"offset":0.0845,"color":"#fff"},{"offset":0.0875,"color":"#000"},{"offset":0.0905,"color":"#fff"},
{"offset":0.1095,"color":"#fff"},{"offset":0.1125,"color":"#000"},{"offset":0.1155,"color":"#fff"},
{"offset":0.1345,"color":"#fff"},{"offset":0.1375,"color":"#000"},{"offset":0.1405,"color":"#fff"},
{"offset":0.1595,"color":"#fff"},{"offset":0.1625,"color":"#000"},{"offset":0.1655,"color":"#fff"},
{"offset":0.1845,"color":"#fff"},{"offset":0.1875,"color":"#000"},{"offset":0.1905,"color":"#fff"},
{"offset":0.2095,"color":"#fff"},{"offset":0.2125,"color":"#000"},{"offset":0.2155,"color":"#fff"},
{"offset":0.2345,"color":"#fff"},{"offset":0.2375,"color":"#000"},{"offset":0.2405,"color":"#fff"},
{"offset":0.2595,"color":"#fff"},{"offset":0.2625,"color":"#000"},{"offset":0.2655,"color":"#fff"},
{"offset":0.2845,"color":"#fff"},{"offset":0.2875,"color":"#000"},{"offset":0.2905,"color":"#fff"},
{"offset":0.3095,"color":"#fff"},{"offset":0.3125,"color":"#000"},{"offset":0.3155,"color":"#fff"},
{"offset":0.3345,"color":"#fff"},{"offset":0.3375,"color":"#000"},{"offset":0.3405,"color":"#fff"},
{"offset":0.3595,"color":"#fff"},{"offset":0.3625,"color":"#000"},{"offset":0.3655,"color":"#fff"},
{"offset":0.3845,"color":"#fff"},{"offset":0.3875,"color":"#000"},{"offset":0.3905,"color":"#fff"},
{"offset":0.4095,"color":"#fff"},{"offset":0.4125,"color":"#000"},{"offset":0.4155,"color":"#fff"},
{"offset":0.4345,"color":"#fff"},{"offset":0.4375,"color":"#000"},{"offset":0.4405,"color":"#fff"},
{"offset":0.4595,"color":"#fff"},{"offset":0.4625,"color":"#000"},{"offset":0.4655,"color":"#fff"},
{"offset":0.4845,"color":"#fff"},{"offset":0.4875,"color":"#000"},{"offset":0.4905,"color":"#fff"},
{"offset":0.5095,"color":"#fff"},{"offset":0.5125,"color":"#000"},{"offset":0.5155,"color":"#fff"}
]}}},
     {"transform": [{"filter": "datum.S === 'Experimental' && indexof(['900 WS','1200 WS'], datum.Cat) >= 0"}], "mark": {"type": "bar", "stroke": "black", "strokeWidth": 2, "fill": {"gradient": "linear", "x1": 0, "y1": 0, "x2": 0.2293, "y2": 1.8253, "stops": [
{"offset":0.0095,"color":"#fff"},{"offset":0.0125,"color":"#000"},{"offset":0.0155,"color":"#fff"},
{"offset":0.0345,"color":"#fff"},{"offset":0.0375,"color":"#000"},{"offset":0.0405,"color":"#fff"},
{"offset":0.0595,"color":"#fff"},{"offset":0.0625,"color":"#000"},{"offset":0.0655,"color":"#fff"},
{"offset":0.0845,"color":"#fff"},{"offset":0.0875,"color":"#000"},{"offset":0.0905,"color":"#fff"},
{"offset":0.1095,"color":"#fff"},{"offset":0.1125,"color":"#000"},{"offset":0.1155,"color":"#fff"},
{"offset":0.1345,"color":"#fff"},{"offset":0.1375,"color":"#000"},{"offset":0.1405,"color":"#fff"},
{"offset":0.1595,"color":"#fff"},{"offset":0.1625,"color":"#000"},{"offset":0.1655,"color":"#fff"},
{"offset":0.1845,"color":"#fff"},{"offset":0.1875,"color":"#000"},{"offset":0.1905,"color":"#fff"},
{"offset":0.2095,"color":"#fff"},{"offset":0.2125,"color":"#000"},{"offset":0.2155,"color":"#fff"},
{"offset":0.2345,"color":"#fff"},{"offset":0.2375,"color":"#000"},{"offset":0.2405,"color":"#fff"},
{"offset":0.2595,"color":"#fff"},{"offset":0.2625,"color":"#000"},{"offset":0.2655,"color":"#fff"},
{"offset":0.2845,"color":"#fff"},{"offset":0.2875,"color":"#000"},{"offset":0.2905,"color":"#fff"},
{"offset":0.3095,"color":"#fff"},{"offset":0.3125,"color":"#000"},{"offset":0.3155,"color":"#fff"},
{"offset":0.3345,"color":"#fff"},{"offset":0.3375,"color":"#000"},{"offset":0.3405,"color":"#fff"},
{"offset":0.3595,"color":"#fff"},{"offset":0.3625,"color":"#000"},{"offset":0.3655,"color":"#fff"},
{"offset":0.3845,"color":"#fff"},{"offset":0.3875,"color":"#000"},{"offset":0.3905,"color":"#fff"},
{"offset":0.4095,"color":"#fff"},{"offset":0.4125,"color":"#000"},{"offset":0.4155,"color":"#fff"},
{"offset":0.4345,"color":"#fff"},{"offset":0.4375,"color":"#000"},{"offset":0.4405,"color":"#fff"},
{"offset":0.4595,"color":"#fff"},{"offset":0.4625,"color":"#000"},{"offset":0.4655,"color":"#fff"},
{"offset":0.4845,"color":"#fff"},{"offset":0.4875,"color":"#000"},{"offset":0.4905,"color":"#fff"},
{"offset":0.5095,"color":"#fff"},{"offset":0.5125,"color":"#000"},{"offset":0.5155,"color":"#fff"},
{"offset":0.5345,"color":"#fff"},{"offset":0.5375,"color":"#000"},{"offset":0.5405,"color":"#fff"},
{"offset":0.5595,"color":"#fff"},{"offset":0.5625,"color":"#000"},{"offset":0.5655,"color":"#fff"},
{"offset":0.5845,"color":"#fff"},{"offset":0.5875,"color":"#000"},{"offset":0.5905,"color":"#fff"},
{"offset":0.6095,"color":"#fff"},{"offset":0.6125,"color":"#000"},{"offset":0.6155,"color":"#fff"},
{"offset":0.6345,"color":"#fff"},{"offset":0.6375,"color":"#000"},{"offset":0.6405,"color":"#fff"}
]}}},
     {"transform": [{"filter": "datum.S === 'Analytical'"}], "mark": {"type": "bar", "stroke": "black", "strokeWidth": 1.5},
      "encoding": {"fill": {"field": "S", "type": "nominal", "scale": {"domain": ["Experimental","Analytical"], "range": ["#ffffff","#808080"]},
        "legend": {"title": null, "orient": "none", "legendX": 12, "legendY": 5, "direction": "vertical", "symbolType": "M-1,-1H3V1H-1Z", "symbolSize": 980, "symbolStrokeColor": "black", "symbolStrokeWidth": 2, "symbolOpacity": 1, "labelFontSize": 30, "labelOffset": 38, "labelLimit": 400, "rowPadding": -2, "padding": 4, "strokeColor": "#555", "fillColor": "white",
          "encoding": {"symbols": {"stroke": {"value": "black"}, "strokeWidth": {"value": 2}, "shape": {"condition": {"test": "datum.value === 'Experimental'", "value": "M-1,-1H3V1H-1Z M-1,0.4L0.4,-1 M-0.4,1L1.6,-1 M0.8,1L2.8,-1 M2,1L3,0"}, "value": "M-1,-1H3V1H-1Z"}}}}}}},
     {"mark": {"type": "text", "fontSize": 31, "dy": -7, "baseline": "alphabetic", "color": "black"}, "encoding": {"text": {"field": "T", "type": "quantitative", "format": ".0f"}}}
    ]
   },
   {"mark": {"type": "point", "opacity": 0}, "encoding": {"y": {"field": "T", "type": "quantitative", "scale": {"domain": [0,120], "nice": false}, "axis": {"orient": "left", "values": [10,30,50,70,90,110], "tickSize": 6, "tickWidth": 2.5, "labels": false, "domain": false, "grid": false, "title": null}}}},
   {"mark": {"type": "point", "opacity": 0}, "encoding": {"x": {"field": "Speed", "type": "nominal", "scale": {"domain": ["600","900","1200"], "paddingInner": 0, "paddingOuter": 0}, "axis": {"orient": "bottom", "offset": 90, "title": "Speed (RPM)", "titleFontSize": 37, "titlePadding": 19, "tickBand": "extent", "tickSize": -45, "tickWidth": 1.5, "domainWidth": 3, "labelFontSize": 26, "labelPadding": 22.5, "labelBaseline": "middle", "labelAngle": 0, "grid": false}}}}
  ],
  "resolve": {"scale": {"x": "independent"}, "axis": {"x": "independent", "y": "independent"}}
 }
],
"spacing": 37,
"center": true,
"resolve": {"scale": {"x": "independent", "y": "independent", "xOffset": "independent", "fill": "independent"}, "legend": {"fill": "independent"}}
}
